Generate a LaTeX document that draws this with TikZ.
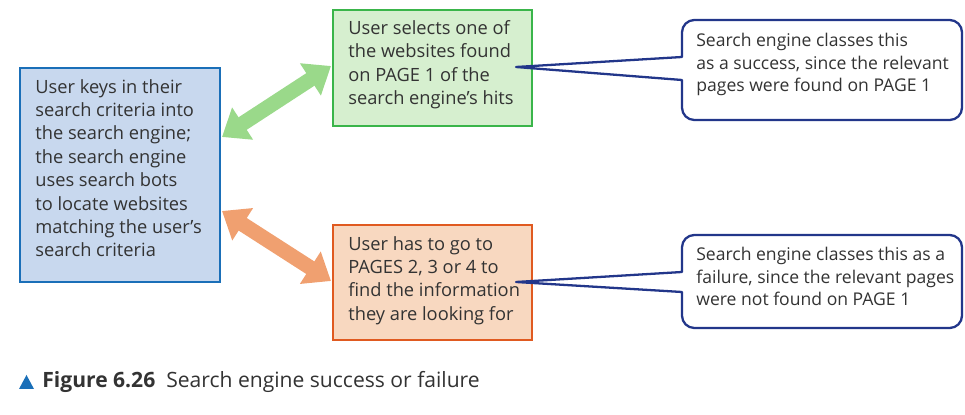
\documentclass[tikz,border=0pt]{standalone}
\usepackage{fontspec}
\setmainfont{Open Sans}
\usetikzlibrary{arrows.meta}
\definecolor{bluefill}{HTML}{C8D8EE}\definecolor{blueline}{HTML}{1A6FB8}
\definecolor{greenfill}{HTML}{D6EFCF}\definecolor{greenline}{HTML}{3AB54A}
\definecolor{orfill}{HTML}{F8D8C0}\definecolor{orline}{HTML}{E05A20}
\definecolor{navy}{HTML}{22368A}\definecolor{garrow}{HTML}{9AD98A}\definecolor{oarrow}{HTML}{F0A070}
\definecolor{txt}{HTML}{333333}
\begin{document}
\begin{tikzpicture}[x=0.02cm,y=-0.02cm,
 lbl/.style={anchor=north west,align=left,text=txt,font=\fontsize{10.4}{13.3}\selectfont,inner sep=0pt},
 clbl/.style={lbl,font=\fontsize{10}{12.8}\selectfont},
 dbl/.style={line width=8.5pt,{Triangle[width=21pt,length=14pt]}-{Triangle[width=21pt,length=14pt]}},
 callout/.style={draw=navy,line width=1.3pt,fill=white,line join=round}]
\useasboundingbox (0,0) rectangle (965,415);
\fill[bluefill,draw=blueline,line width=1.4pt] (20,68) rectangle (220,282);
\fill[greenfill,draw=greenline,line width=1.4pt] (333,10) rectangle (532,126);
\fill[orfill,draw=orline,line width=1.4pt] (333,225) rectangle (532,340);
\node[lbl] (L) at (35,79) {User keys in their\\search criteria into\\the search engine;\\the search engine\\uses search bots\\to locate websites\\matching the user's\\search criteria};
\node[lbl] (G) at (348,20) {User selects one of\\the websites found\\on PAGE 1 of the\\search engine's hits};
\node[lbl] (O) at (348,236) {User has to go to\\PAGES 2, 3 or 4 to\\find the information\\they are looking for};
\coordinate (gl) at (222,137); \coordinate (gr) at (331,66);
\coordinate (ol) at (222,211); \coordinate (or) at (331,281);
\draw[dbl,garrow] (gl) -- (gr);
\draw[dbl,oarrow] (ol) -- (or);
\coordinate (t1) at (516,67); \coordinate (t2) at (516,282);
\draw[callout] (t1) -- (682,57) [rounded corners=7pt]-- (682,20) -- (962,20) -- (962,120) -- (682,120) [sharp corners]-- (682,80) -- cycle;
\draw[callout] (t2) -- (682,272) [rounded corners=7pt]-- (682,235) -- (962,235) -- (962,328) -- (682,328) [sharp corners]-- (682,292) -- cycle;
\node[clbl] (C1) at (696,33) {Search engine classes this\\as a success, since the relevant\\pages were found on PAGE 1};
\node[clbl] (C2) at (696,247) {Search engine classes this as a\\failure, since the relevant pages\\were not found on PAGE 1};
\fill[blueline] (19,389) -- (34,389) -- (26.5,375) -- cycle;
\node[anchor=west,inner sep=0pt,text=txt,font=\fontsize{12}{14}\selectfont] (cap) at (42,382) {\textbf{Figure 6.26}\ \ Search engine success or failure};
\end{tikzpicture}
\end{document}
